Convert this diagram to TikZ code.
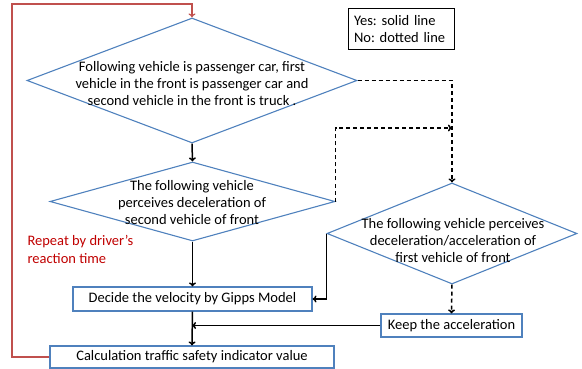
\documentclass[tikz,border=0pt]{standalone}
\usepackage{fontspec}
\setmainfont{Carlito}
\usetikzlibrary{shapes.geometric,arrows.meta}
\definecolor{boxblue}{RGB}{79,129,189}
\definecolor{loopred}{RGB}{192,80,77}
\definecolor{notered}{RGB}{192,0,0}
\frenchspacing
\begin{document}
\begin{tikzpicture}[x=1pt,y=-1pt,
    dec/.style={diamond,draw=boxblue,line width=1.1pt,inner sep=0pt},
    proc/.style={rectangle,draw=boxblue,line width=1.1pt,fill=white,inner sep=0pt,font=\fontsize{14.5}{17}\selectfont},
    txt/.style={align=center,font=\fontsize{14.5}{17}\selectfont},
    yes/.style={-{To[length=4pt,width=7pt]},line width=1.5pt},
    no/.style={-{To[length=4pt,width=7pt]},line width=1.5pt,dash pattern=on 4pt off 3pt}]
    \useasboundingbox (0,0) rectangle (582,369);

    % decisions
    \node[dec,minimum width=330,minimum height=125] (d1) at (192,80.5) {};
    \node[txt] (t1) at (192,84) {Following vehicle is passenger car, first\\vehicle in the front is passenger car and\\second vehicle in the front is truck .};
    \node[dec,minimum width=285,minimum height=79] (d2) at (192.5,201.5) {};
    \node[txt] (t2) at (192,202.5) {The following vehicle\\perceives deceleration of\\second vehicle of front};
    \node[dec,minimum width=250,minimum height=101] (d3) at (452,233.5) {};
    \node[txt] (t3) at (453,240.5) {The following vehicle perceives\\deceleration/acceleration of\\first vehicle of front};

    % processes
    \node[proc,minimum width=239,minimum height=24] (gipps) at (192.5,299) {Decide the velocity by Gipps Model};
    \node[proc,minimum width=141,minimum height=23] (keep) at (451.5,325.5) {Keep the acceleration};
    \node[proc,minimum width=284,minimum height=22] (calc) at (192,357) {Calculation traffic safety indicator value};

    % legend and note
    \node[draw,line width=1pt,minimum width=106,minimum height=41,text width=94,inner xsep=6pt,align=left,
          font=\fontsize{14.5}{17}\selectfont] (legend) at (401,29.5) {Yes: solid line\\No: dotted line};
    \node[anchor=west,align=left,text=notered,font=\fontsize{14.5}{18}\selectfont] (note) at (24,249) {Repeat by driver’s\\reaction time};

    \coordinate (join) at (452,128);
    \coordinate (merge) at (192,325.5);
    \coordinate (looptl) at (12,4);

    \draw[yes] (d1.south) -- (d2.north);
    \draw[yes] (d2.south) -- (gipps.north);
    \draw[yes] (gipps.south) -- (calc.north);
    \draw[yes] (d3.west) |- (gipps.east);
    \draw[yes] (keep.west) -- (merge);
    \draw[no] (d1.east) -| (d3.north);
    \draw[no] (d2.east) |- (join);
    \draw[no] (d3.south) -- (keep.north);
    \draw[loopred,line width=1.2pt,-{To[length=4pt,width=7pt]}] (calc.west) -| (looptl) -| (d1.north);
\end{tikzpicture}
\end{document}
